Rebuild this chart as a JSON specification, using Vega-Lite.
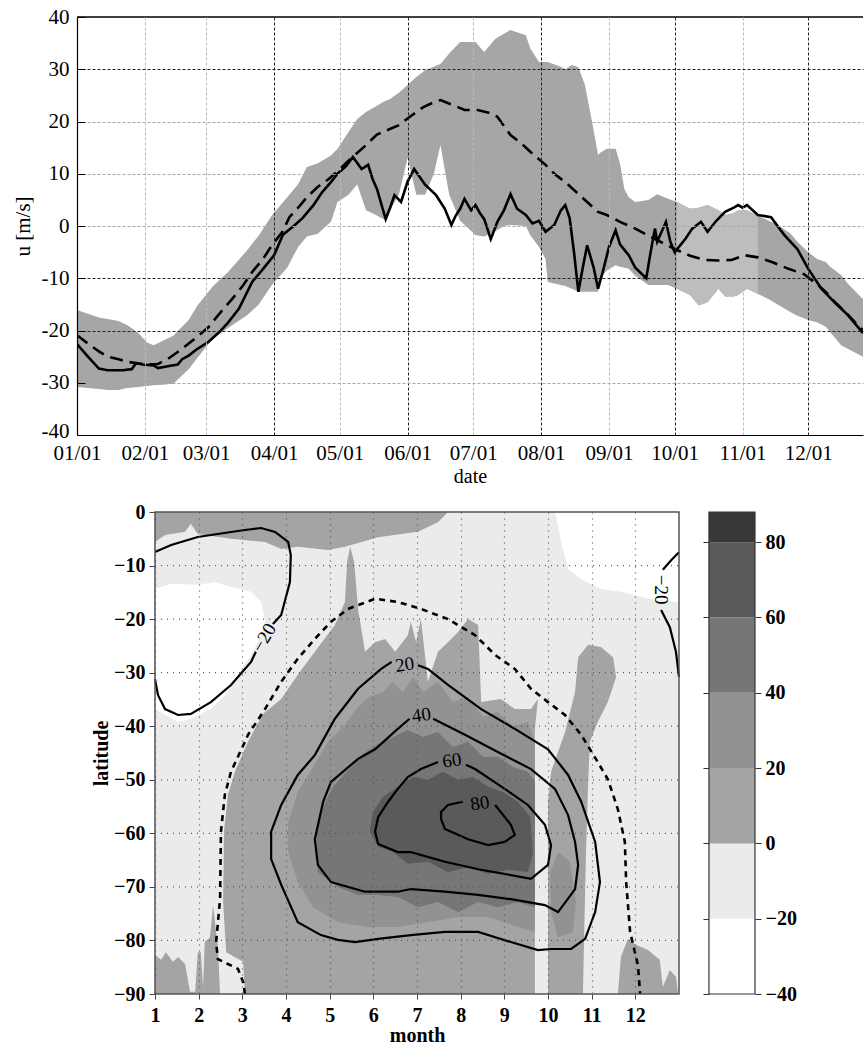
{
  "$schema": "https://vega.github.io/schema/vega-lite/v6.json",
  "background": "white",
  "padding": {"left": 12, "top": 6, "right": 0, "bottom": 0},
  "config": {
    "view": {"stroke": null},
    "font": "Liberation Serif",
    "axis": {"labelFont": "Liberation Serif", "titleFont": "Liberation Serif", "labelColor": "#000", "titleColor": "#000"}
  },
  "datasets": {
    "obs": [
      {"day":0,"u":-22.6},{"day":5,"u":-25},{"day":10,"u":-27.3},{"day":14,"u":-27.6},{"day":21,"u":-27.6},{"day":25,"u":-27.4},{"day":27,"u":-26.2},{"day":30,"u":-26.5},{"day":35,"u":-26.7},{"day":37,"u":-27.2},{"day":42,"u":-26.8},{"day":46,"u":-26.5},{"day":48,"u":-25.5},{"day":51,"u":-24.8},{"day":55,"u":-23.5},{"day":60,"u":-22.2},{"day":65,"u":-20.3},{"day":69,"u":-18.5},{"day":74,"u":-15.8},{"day":80,"u":-10.7},{"day":85,"u":-8.2},{"day":90,"u":-5.6},{"day":94,"u":-1.7},{"day":96,"u":-1},{"day":99,"u":0},{"day":103,"u":1.5},{"day":108,"u":4},{"day":112,"u":6.5},{"day":116,"u":8.4},{"day":119,"u":10},{"day":123,"u":11.5},{"day":126,"u":13.2},{"day":130,"u":10.9},{"day":133,"u":11.7},{"day":135,"u":9},{"day":137,"u":7.1},{"day":141,"u":1.3},{"day":143,"u":3.5},{"day":145,"u":5.9},{"day":148,"u":4.6},{"day":151,"u":8.5},{"day":154,"u":10.9},{"day":159,"u":7.9},{"day":164,"u":5.9},{"day":168,"u":3.3},{"day":171,"u":0.2},{"day":173,"u":2},{"day":175,"u":3.3},{"day":177,"u":5.2},{"day":180,"u":3},{"day":182,"u":4},{"day":184,"u":2.5},{"day":186,"u":1.3},{"day":189,"u":-2.5},{"day":192,"u":0.8},{"day":195,"u":3},{"day":198,"u":6.1},{"day":201,"u":3.3},{"day":205,"u":2.1},{"day":208,"u":0.5},{"day":211,"u":1},{"day":214,"u":-1.1},{"day":218,"u":0.2},{"day":221,"u":3},{"day":223,"u":4},{"day":225,"u":1.5},{"day":227,"u":-5},{"day":229,"u":-12.6},{"day":231,"u":-8},{"day":233,"u":-3.7},{"day":236,"u":-8},{"day":238,"u":-12},{"day":240,"u":-9},{"day":243,"u":-4},{"day":246,"u":-0.8},{"day":248,"u":-3.5},{"day":252,"u":-5.6},{"day":255,"u":-8},{"day":260,"u":-10},{"day":262,"u":-5},{"day":264,"u":-0.5},{"day":265,"u":-3},{"day":269,"u":0.8},{"day":271,"u":-3},{"day":273,"u":-5},{"day":278,"u":-2.4},{"day":281,"u":-0.5},{"day":285,"u":0.8},{"day":288,"u":-1.1},{"day":292,"u":1},{"day":296,"u":2.7},{"day":300,"u":3.5},{"day":302,"u":4},{"day":304,"u":3.5},{"day":306,"u":4},{"day":311,"u":2.1},{"day":317,"u":1.7},{"day":323,"u":-1.7},{"day":329,"u":-4.4},{"day":334,"u":-8.2},{"day":340,"u":-12},{"day":346,"u":-14.6},{"day":352,"u":-17},{"day":359,"u":-20.5}
    ],
    "clim": [
      {"day":0,"u":-20.9},{"day":5,"u":-22.5},{"day":10,"u":-24},{"day":14,"u":-25},{"day":19,"u":-25.5},{"day":23,"u":-26},{"day":28,"u":-26.3},{"day":32,"u":-26.5},{"day":37,"u":-26.4},{"day":42,"u":-25.3},{"day":48,"u":-23.5},{"day":54,"u":-21.5},{"day":60,"u":-19.4},{"day":65,"u":-16.8},{"day":71,"u":-13.9},{"day":76,"u":-11.3},{"day":80,"u":-8.8},{"day":85,"u":-6.3},{"day":89,"u":-3.7},{"day":94,"u":-1},{"day":97,"u":1.7},{"day":101,"u":3.5},{"day":105,"u":5.5},{"day":110,"u":7.5},{"day":115,"u":9},{"day":119,"u":10.5},{"day":124,"u":12.5},{"day":131,"u":15.1},{"day":137,"u":17.5},{"day":147,"u":19.3},{"day":153,"u":21.2},{"day":158,"u":22.7},{"day":163,"u":23.7},{"day":166,"u":24.1},{"day":172,"u":23.1},{"day":177,"u":22.2},{"day":183,"u":22.2},{"day":188,"u":21.7},{"day":192,"u":20.9},{"day":198,"u":17.4},{"day":203,"u":15.8},{"day":207,"u":14.2},{"day":214,"u":11.7},{"day":218,"u":10},{"day":223,"u":8.4},{"day":228,"u":6.5},{"day":233,"u":4.6},{"day":238,"u":2.7},{"day":242,"u":2.1},{"day":248,"u":0.8},{"day":255,"u":-0.5},{"day":264,"u":-2.5},{"day":273,"u":-4.4},{"day":280,"u":-5.7},{"day":287,"u":-6.5},{"day":293,"u":-6.6},{"day":299,"u":-6.5},{"day":305,"u":-5.6},{"day":311,"u":-6},{"day":318,"u":-7},{"day":325,"u":-8.2},{"day":332,"u":-9.2},{"day":337,"u":-10.8},{"day":342,"u":-12.6},{"day":346,"u":-14.5},{"day":351,"u":-16.5},{"day":359,"u":-20}
    ],
    "band": [
      {"day":0,"lo":-30.8,"hi":-16.1},{"day":5,"lo":-31,"hi":-16.8},{"day":10,"lo":-31.2,"hi":-17.5},{"day":14,"lo":-31.4,"hi":-17.8},{"day":19,"lo":-31.4,"hi":-18.2},{"day":23,"lo":-31,"hi":-19},{"day":28,"lo":-30.8,"hi":-20.5},{"day":32,"lo":-30.6,"hi":-22.3},{"day":35,"lo":-30.5,"hi":-22.8},{"day":39,"lo":-30.4,"hi":-22},{"day":44,"lo":-30.2,"hi":-21},{"day":51,"lo":-27.4,"hi":-18},{"day":55,"lo":-25.2,"hi":-15.2},{"day":62,"lo":-21.6,"hi":-11.6},{"day":69,"lo":-19.5,"hi":-8.8},{"day":78,"lo":-17,"hi":-4.5},{"day":83,"lo":-15,"hi":-1.8},{"day":89,"lo":-11.3,"hi":2},{"day":96,"lo":-8,"hi":5.5},{"day":101,"lo":-4,"hi":8},{"day":105,"lo":-2,"hi":11.3},{"day":110,"lo":-1.5,"hi":12},{"day":116,"lo":0.8,"hi":13.5},{"day":119,"lo":4.6,"hi":14.8},{"day":124,"lo":6,"hi":18},{"day":128,"lo":8,"hi":20.5},{"day":132,"lo":3,"hi":21.8},{"day":137,"lo":2,"hi":23},{"day":140,"lo":1.3,"hi":23.8},{"day":143,"lo":3,"hi":24.3},{"day":147,"lo":6,"hi":25.5},{"day":151,"lo":13,"hi":27},{"day":155,"lo":6,"hi":28.5},{"day":159,"lo":6,"hi":29.8},{"day":163,"lo":10,"hi":30.5},{"day":166,"lo":15.5,"hi":31},{"day":170,"lo":6,"hi":33},{"day":175,"lo":1,"hi":35.2},{"day":182,"lo":-1.7,"hi":35.2},{"day":186,"lo":-2,"hi":33.3},{"day":191,"lo":-1,"hi":35.8},{"day":195,"lo":0,"hi":36.8},{"day":198,"lo":0.2,"hi":37.5},{"day":205,"lo":0,"hi":36.5},{"day":207,"lo":-1.7,"hi":34},{"day":211,"lo":-4,"hi":31.4},{"day":214,"lo":-6.3,"hi":31.4},{"day":215,"lo":-10.7,"hi":31.4},{"day":221,"lo":-11.3,"hi":30.5},{"day":223,"lo":-11.5,"hi":30},{"day":226,"lo":-12,"hi":30.8},{"day":229,"lo":-12.6,"hi":30.4},{"day":232,"lo":-12.6,"hi":27},{"day":235,"lo":-12.6,"hi":20.5},{"day":238,"lo":-12.6,"hi":13.6},{"day":239,"lo":-10,"hi":14},{"day":242,"lo":-8.5,"hi":14.8},{"day":246,"lo":-7.5,"hi":14.8},{"day":248,"lo":-7.8,"hi":12},{"day":250,"lo":-8,"hi":7.1},{"day":252,"lo":-8.2,"hi":5.5},{"day":255,"lo":-9.5,"hi":4.6},{"day":261,"lo":-11.3,"hi":5},{"day":265,"lo":-11.3,"hi":6.1},{"day":270,"lo":-11.3,"hi":5.2},{"day":274,"lo":-12,"hi":4.6},{"day":280,"lo":-13.2,"hi":3.3},{"day":284,"lo":-15.2,"hi":3.5},{"day":288,"lo":-14.6,"hi":4},{"day":293,"lo":-12,"hi":3},{"day":296,"lo":-13.5,"hi":2.1},{"day":300,"lo":-13.5,"hi":2.5},{"day":302,"lo":-13.2,"hi":3},{"day":306,"lo":-12,"hi":3},{"day":311,"lo":-13,"hi":2},{"day":316,"lo":-14,"hi":1},{"day":320,"lo":-15,"hi":0.2},{"day":326,"lo":-16.5,"hi":-1.5},{"day":329,"lo":-17.2,"hi":-3},{"day":334,"lo":-18,"hi":-5},{"day":338,"lo":-18.4,"hi":-6.3},{"day":342,"lo":-19.3,"hi":-6.9},{"day":344,"lo":-20.3,"hi":-7.8},{"day":349,"lo":-22.8,"hi":-9.4},{"day":352,"lo":-23.5,"hi":-11},{"day":359,"lo":-25,"hi":-14}
    ],
    "fills": [
      {"id":"w1","lev":"w","i":0,"month":1,"lat":-14.4},{"id":"w1","lev":"w","i":1,"month":1.37,"lat":-13.4},{"id":"w1","lev":"w","i":2,"month":1.98,"lat":-13.6},{"id":"w1","lev":"w","i":3,"month":2.37,"lat":-13.1},{"id":"w1","lev":"w","i":4,"month":2.74,"lat":-14.0},{"id":"w1","lev":"w","i":5,"month":3.2,"lat":-14.9},{"id":"w1","lev":"w","i":6,"month":3.43,"lat":-16.8},{"id":"w1","lev":"w","i":7,"month":3.52,"lat":-20.5},{"id":"w1","lev":"w","i":8,"month":3.43,"lat":-23.0},{"id":"w1","lev":"w","i":9,"month":3.2,"lat":-26.7},{"id":"w1","lev":"w","i":10,"month":2.9,"lat":-30.4},{"id":"w1","lev":"w","i":11,"month":2.6,"lat":-34.2},{"id":"w1","lev":"w","i":12,"month":2.28,"lat":-36.8},{"id":"w1","lev":"w","i":13,"month":1.82,"lat":-38.6},{"id":"w1","lev":"w","i":14,"month":1.53,"lat":-39.2},{"id":"w1","lev":"w","i":15,"month":1.23,"lat":-37.9},{"id":"w1","lev":"w","i":16,"month":1,"lat":-36.8},
      {"id":"w2","lev":"w","i":0,"month":10.16,"lat":0},{"id":"w2","lev":"w","i":1,"month":10.30,"lat":-5.6},{"id":"w2","lev":"w","i":2,"month":10.46,"lat":-10.6},{"id":"w2","lev":"w","i":3,"month":10.76,"lat":-12.5},{"id":"w2","lev":"w","i":4,"month":11.21,"lat":-14.4},{"id":"w2","lev":"w","i":5,"month":11.67,"lat":-14.9},{"id":"w2","lev":"w","i":6,"month":12.29,"lat":-16.2},{"id":"w2","lev":"w","i":7,"month":13,"lat":-16.8},{"id":"w2","lev":"w","i":8,"month":13,"lat":0},
      {"id":"a1","lev":"g0","i":0,"month":1,"lat":0},{"id":"a1","lev":"g0","i":1,"month":1,"lat":-5.6},{"id":"a1","lev":"g0","i":2,"month":1.23,"lat":-4.3},{"id":"a1","lev":"g0","i":3,"month":1.69,"lat":-3.7},{"id":"a1","lev":"g0","i":4,"month":1.82,"lat":-2.2},{"id":"a1","lev":"g0","i":5,"month":1.98,"lat":-4.1},{"id":"a1","lev":"g0","i":6,"month":2.74,"lat":-5.0},{"id":"a1","lev":"g0","i":7,"month":3.52,"lat":-5.6},{"id":"a1","lev":"g0","i":8,"month":3.89,"lat":-6.9},{"id":"a1","lev":"g0","i":9,"month":4.27,"lat":-6.5},{"id":"a1","lev":"g0","i":10,"month":4.96,"lat":-7.1},{"id":"a1","lev":"g0","i":11,"month":5.35,"lat":-6.5},{"id":"a1","lev":"g0","i":12,"month":6.11,"lat":-4.7},{"id":"a1","lev":"g0","i":13,"month":7.02,"lat":-3.7},{"id":"a1","lev":"g0","i":14,"month":7.48,"lat":-1.9},{"id":"a1","lev":"g0","i":15,"month":7.71,"lat":0},
      {"id":"a2","lev":"g0","i":0,"month":3.06,"lat":-90},{"id":"a2","lev":"g0","i":1,"month":3.02,"lat":-84.0},{"id":"a2","lev":"g0","i":2,"month":2.63,"lat":-82.2},{"id":"a2","lev":"g0","i":3,"month":2.56,"lat":-72.8},{"id":"a2","lev":"g0","i":4,"month":2.58,"lat":-59.7},{"id":"a2","lev":"g0","i":5,"month":2.67,"lat":-52.8},{"id":"a2","lev":"g0","i":6,"month":2.83,"lat":-48.5},{"id":"a2","lev":"g0","i":7,"month":3.13,"lat":-42.9},{"id":"a2","lev":"g0","i":8,"month":3.47,"lat":-37.7},{"id":"a2","lev":"g0","i":9,"month":3.89,"lat":-34.9},{"id":"a2","lev":"g0","i":10,"month":4.27,"lat":-30.4},{"id":"a2","lev":"g0","i":11,"month":4.66,"lat":-26.1},{"id":"a2","lev":"g0","i":12,"month":5.12,"lat":-21.1},{"id":"a2","lev":"g0","i":13,"month":5.35,"lat":-16.8},{"id":"a2","lev":"g0","i":14,"month":5.40,"lat":-9.3},{"id":"a2","lev":"g0","i":15,"month":5.47,"lat":-6.5},{"id":"a2","lev":"g0","i":16,"month":5.56,"lat":-9.3},{"id":"a2","lev":"g0","i":17,"month":5.65,"lat":-18.1},{"id":"a2","lev":"g0","i":18,"month":5.81,"lat":-26.1},{"id":"a2","lev":"g0","i":19,"month":6.04,"lat":-24.3},{"id":"a2","lev":"g0","i":20,"month":6.27,"lat":-23.7},{"id":"a2","lev":"g0","i":21,"month":6.50,"lat":-26.1},{"id":"a2","lev":"g0","i":22,"month":6.79,"lat":-23.0},{"id":"a2","lev":"g0","i":23,"month":6.86,"lat":-20.5},{"id":"a2","lev":"g0","i":24,"month":6.98,"lat":-24.3},{"id":"a2","lev":"g0","i":25,"month":7.09,"lat":-20.0},{"id":"a2","lev":"g0","i":26,"month":7.25,"lat":-31.7},{"id":"a2","lev":"g0","i":27,"month":7.48,"lat":-26.1},{"id":"a2","lev":"g0","i":28,"month":7.71,"lat":-24.3},{"id":"a2","lev":"g0","i":29,"month":7.94,"lat":-22.4},{"id":"a2","lev":"g0","i":30,"month":8.17,"lat":-20.0},{"id":"a2","lev":"g0","i":31,"month":8.40,"lat":-21.1},{"id":"a2","lev":"g0","i":32,"month":8.47,"lat":-35.5},{"id":"a2","lev":"g0","i":33,"month":8.92,"lat":-34.9},{"id":"a2","lev":"g0","i":34,"month":9.24,"lat":-36.8},{"id":"a2","lev":"g0","i":35,"month":9.61,"lat":-36.8},{"id":"a2","lev":"g0","i":36,"month":9.77,"lat":-34.9},{"id":"a2","lev":"g0","i":37,"month":9.70,"lat":-40.5},{"id":"a2","lev":"g0","i":38,"month":9.70,"lat":-90},
      {"id":"a3","lev":"g0","i":0,"month":10.0,"lat":-90},{"id":"a3","lev":"g0","i":1,"month":10.0,"lat":-54.1},{"id":"a3","lev":"g0","i":2,"month":10.07,"lat":-48.5},{"id":"a3","lev":"g0","i":3,"month":10.23,"lat":-44.8},{"id":"a3","lev":"g0","i":4,"month":10.39,"lat":-41.1},{"id":"a3","lev":"g0","i":5,"month":10.62,"lat":-33.6},{"id":"a3","lev":"g0","i":6,"month":10.69,"lat":-27.1},{"id":"a3","lev":"g0","i":7,"month":10.92,"lat":-24.8},{"id":"a3","lev":"g0","i":8,"month":11.21,"lat":-25.2},{"id":"a3","lev":"g0","i":9,"month":11.49,"lat":-27.1},{"id":"a3","lev":"g0","i":10,"month":11.56,"lat":-30.8},{"id":"a3","lev":"g0","i":11,"month":11.37,"lat":-35.5},{"id":"a3","lev":"g0","i":12,"month":11.14,"lat":-39.2},{"id":"a3","lev":"g0","i":13,"month":10.96,"lat":-42.9},{"id":"a3","lev":"g0","i":14,"month":10.92,"lat":-50.4},{"id":"a3","lev":"g0","i":15,"month":10.87,"lat":-63.5},{"id":"a3","lev":"g0","i":16,"month":10.82,"lat":-82.2},{"id":"a3","lev":"g0","i":17,"month":10.80,"lat":-90},
      {"id":"a4","lev":"g0","i":0,"month":11.60,"lat":-90},{"id":"a4","lev":"g0","i":1,"month":11.67,"lat":-83.1},{"id":"a4","lev":"g0","i":2,"month":11.83,"lat":-79.7},{"id":"a4","lev":"g0","i":3,"month":12.01,"lat":-80.8},{"id":"a4","lev":"g0","i":4,"month":12.29,"lat":-81.8},{"id":"a4","lev":"g0","i":5,"month":12.56,"lat":-83.6},{"id":"a4","lev":"g0","i":6,"month":12.63,"lat":-88.7},{"id":"a4","lev":"g0","i":7,"month":12.79,"lat":-85.5},{"id":"a4","lev":"g0","i":8,"month":12.93,"lat":-86.8},{"id":"a4","lev":"g0","i":9,"month":12.98,"lat":-90},
      {"id":"a5","lev":"g0","i":0,"month":1.0,"lat":-90},{"id":"a5","lev":"g0","i":1,"month":1.0,"lat":-82.7},{"id":"a5","lev":"g0","i":2,"month":1.14,"lat":-83.6},{"id":"a5","lev":"g0","i":3,"month":1.25,"lat":-82.2},{"id":"a5","lev":"g0","i":4,"month":1.41,"lat":-84.0},{"id":"a5","lev":"g0","i":5,"month":1.53,"lat":-83.1},{"id":"a5","lev":"g0","i":6,"month":1.69,"lat":-84.4},{"id":"a5","lev":"g0","i":7,"month":1.80,"lat":-89.6},{"id":"a5","lev":"g0","i":8,"month":1.92,"lat":-89.6},{"id":"a5","lev":"g0","i":9,"month":1.98,"lat":-82.2},{"id":"a5","lev":"g0","i":10,"month":2.05,"lat":-82.2},{"id":"a5","lev":"g0","i":11,"month":2.10,"lat":-88.7},{"id":"a5","lev":"g0","i":12,"month":2.14,"lat":-80.3},{"id":"a5","lev":"g0","i":13,"month":2.26,"lat":-79.4},{"id":"a5","lev":"g0","i":14,"month":2.33,"lat":-73.4},{"id":"a5","lev":"g0","i":15,"month":2.40,"lat":-78.4},{"id":"a5","lev":"g0","i":16,"month":2.44,"lat":-81.2},{"id":"a5","lev":"g0","i":17,"month":2.49,"lat":-90},
      {"id":"b1","lev":"g20","i":0,"month":4.27,"lat":-69.1},{"id":"b1","lev":"g20","i":1,"month":4.05,"lat":-63.5},{"id":"b1","lev":"g20","i":2,"month":4.05,"lat":-57.9},{"id":"b1","lev":"g20","i":3,"month":4.27,"lat":-52.3},{"id":"b1","lev":"g20","i":4,"month":4.62,"lat":-47.6},{"id":"b1","lev":"g20","i":5,"month":4.96,"lat":-42.9},{"id":"b1","lev":"g20","i":6,"month":5.31,"lat":-40.1},{"id":"b1","lev":"g20","i":7,"month":5.65,"lat":-36.4},{"id":"b1","lev":"g20","i":8,"month":5.92,"lat":-34.5},{"id":"b1","lev":"g20","i":9,"month":6.22,"lat":-33.6},{"id":"b1","lev":"g20","i":10,"month":6.45,"lat":-31.7},{"id":"b1","lev":"g20","i":11,"month":6.68,"lat":-33.6},{"id":"b1","lev":"g20","i":12,"month":6.91,"lat":-30.8},{"id":"b1","lev":"g20","i":13,"month":7.14,"lat":-33.6},{"id":"b1","lev":"g20","i":14,"month":7.48,"lat":-31.7},{"id":"b1","lev":"g20","i":15,"month":7.82,"lat":-35.5},{"id":"b1","lev":"g20","i":16,"month":8.17,"lat":-34.5},{"id":"b1","lev":"g20","i":17,"month":8.51,"lat":-38.3},{"id":"b1","lev":"g20","i":18,"month":8.85,"lat":-37.3},{"id":"b1","lev":"g20","i":19,"month":9.20,"lat":-40.1},{"id":"b1","lev":"g20","i":20,"month":9.54,"lat":-39.2},{"id":"b1","lev":"g20","i":21,"month":9.70,"lat":-42.9},{"id":"b1","lev":"g20","i":22,"month":9.70,"lat":-78.4},{"id":"b1","lev":"g20","i":23,"month":9.31,"lat":-77.5},{"id":"b1","lev":"g20","i":24,"month":8.63,"lat":-75.6},{"id":"b1","lev":"g20","i":25,"month":7.94,"lat":-75.6},{"id":"b1","lev":"g20","i":26,"month":7.25,"lat":-76.6},{"id":"b1","lev":"g20","i":27,"month":6.56,"lat":-77.5},{"id":"b1","lev":"g20","i":28,"month":5.88,"lat":-77.5},{"id":"b1","lev":"g20","i":29,"month":5.19,"lat":-76.6},{"id":"b1","lev":"g20","i":30,"month":4.62,"lat":-73.8},
      {"id":"b2","lev":"g20","i":0,"month":10.05,"lat":-67.2},{"id":"b2","lev":"g20","i":1,"month":10.23,"lat":-63.5},{"id":"b2","lev":"g20","i":2,"month":10.50,"lat":-65.3},{"id":"b2","lev":"g20","i":3,"month":10.64,"lat":-72.8},{"id":"b2","lev":"g20","i":4,"month":10.57,"lat":-78.4},{"id":"b2","lev":"g20","i":5,"month":10.23,"lat":-79.4},{"id":"b2","lev":"g20","i":6,"month":10.07,"lat":-74.7},
      {"id":"c1","lev":"g40","i":0,"month":4.73,"lat":-67.2},{"id":"c1","lev":"g40","i":1,"month":4.69,"lat":-61.6},{"id":"c1","lev":"g40","i":2,"month":4.78,"lat":-56.0},{"id":"c1","lev":"g40","i":3,"month":5.08,"lat":-51.3},{"id":"c1","lev":"g40","i":4,"month":5.42,"lat":-48.2},{"id":"c1","lev":"g40","i":5,"month":5.76,"lat":-45.2},{"id":"c1","lev":"g40","i":6,"month":6.11,"lat":-43.3},{"id":"c1","lev":"g40","i":7,"month":6.45,"lat":-42.0},{"id":"c1","lev":"g40","i":8,"month":6.79,"lat":-40.7},{"id":"c1","lev":"g40","i":9,"month":7.14,"lat":-42.0},{"id":"c1","lev":"g40","i":10,"month":7.48,"lat":-41.1},{"id":"c1","lev":"g40","i":11,"month":7.82,"lat":-43.9},{"id":"c1","lev":"g40","i":12,"month":8.17,"lat":-42.9},{"id":"c1","lev":"g40","i":13,"month":8.51,"lat":-45.7},{"id":"c1","lev":"g40","i":14,"month":8.85,"lat":-45.7},{"id":"c1","lev":"g40","i":15,"month":9.20,"lat":-47.6},{"id":"c1","lev":"g40","i":16,"month":9.54,"lat":-48.5},{"id":"c1","lev":"g40","i":17,"month":9.70,"lat":-50.4},{"id":"c1","lev":"g40","i":18,"month":9.70,"lat":-73.8},{"id":"c1","lev":"g40","i":19,"month":9.31,"lat":-72.8},{"id":"c1","lev":"g40","i":20,"month":8.85,"lat":-73.8},{"id":"c1","lev":"g40","i":21,"month":8.40,"lat":-72.8},{"id":"c1","lev":"g40","i":22,"month":7.94,"lat":-74.7},{"id":"c1","lev":"g40","i":23,"month":7.48,"lat":-72.8},{"id":"c1","lev":"g40","i":24,"month":7.02,"lat":-73.8},{"id":"c1","lev":"g40","i":25,"month":6.56,"lat":-71.9},{"id":"c1","lev":"g40","i":26,"month":6.11,"lat":-71.5},{"id":"c1","lev":"g40","i":27,"month":5.65,"lat":-71.5},{"id":"c1","lev":"g40","i":28,"month":5.19,"lat":-70.0},
      {"id":"d1","lev":"g60","i":0,"month":5.92,"lat":-59.7},{"id":"d1","lev":"g60","i":1,"month":5.99,"lat":-56.0},{"id":"d1","lev":"g60","i":2,"month":6.22,"lat":-53.2},{"id":"d1","lev":"g60","i":3,"month":6.56,"lat":-51.3},{"id":"d1","lev":"g60","i":4,"month":6.91,"lat":-49.5},{"id":"d1","lev":"g60","i":5,"month":7.25,"lat":-50.0},{"id":"d1","lev":"g60","i":6,"month":7.59,"lat":-48.5},{"id":"d1","lev":"g60","i":7,"month":7.94,"lat":-50.0},{"id":"d1","lev":"g60","i":8,"month":8.28,"lat":-49.5},{"id":"d1","lev":"g60","i":9,"month":8.63,"lat":-51.3},{"id":"d1","lev":"g60","i":10,"month":8.97,"lat":-52.3},{"id":"d1","lev":"g60","i":11,"month":9.31,"lat":-54.1},{"id":"d1","lev":"g60","i":12,"month":9.59,"lat":-56.9},{"id":"d1","lev":"g60","i":13,"month":9.66,"lat":-63.5},{"id":"d1","lev":"g60","i":14,"month":9.54,"lat":-67.2},{"id":"d1","lev":"g60","i":15,"month":9.08,"lat":-66.8},{"id":"d1","lev":"g60","i":16,"month":8.63,"lat":-67.6},{"id":"d1","lev":"g60","i":17,"month":8.17,"lat":-66.3},{"id":"d1","lev":"g60","i":18,"month":7.71,"lat":-67.2},{"id":"d1","lev":"g60","i":19,"month":7.25,"lat":-65.3},{"id":"d1","lev":"g60","i":20,"month":6.79,"lat":-65.7},{"id":"d1","lev":"g60","i":21,"month":6.45,"lat":-63.5},{"id":"d1","lev":"g60","i":22,"month":6.11,"lat":-62.5}
    ],
    "contours": [
      {"id":"a","sty":"s","i":0,"month":1.00,"lat":-7.47},{"id":"a","sty":"s","i":1,"month":1.37,"lat":-6.16},{"id":"a","sty":"s","i":2,"month":1.98,"lat":-4.67},{"id":"a","sty":"s","i":3,"month":2.74,"lat":-3.73},{"id":"a","sty":"s","i":4,"month":3.06,"lat":-3.36},{"id":"a","sty":"s","i":5,"month":3.43,"lat":-2.99},{"id":"a","sty":"s","i":6,"month":3.75,"lat":-3.73},{"id":"a","sty":"s","i":7,"month":4.05,"lat":-5.60},{"id":"a","sty":"s","i":8,"month":4.11,"lat":-8.03},{"id":"a","sty":"s","i":9,"month":4.09,"lat":-13.07},{"id":"a","sty":"s","i":10,"month":3.89,"lat":-19.23},{"id":"a","sty":"s","i":11,"month":3.70,"lat":-20.9},
      {"id":"b","sty":"s","i":0,"month":3.31,"lat":-26.1},{"id":"b","sty":"s","i":1,"month":3.20,"lat":-28.0},{"id":"b","sty":"s","i":2,"month":2.74,"lat":-32.3},{"id":"b","sty":"s","i":3,"month":2.28,"lat":-35.5},{"id":"b","sty":"s","i":4,"month":1.82,"lat":-37.7},{"id":"b","sty":"s","i":5,"month":1.53,"lat":-37.9},{"id":"b","sty":"s","i":6,"month":1.23,"lat":-36.8},{"id":"b","sty":"s","i":7,"month":1.07,"lat":-34.2},{"id":"b","sty":"s","i":8,"month":1.00,"lat":-31.2},
      {"id":"c","sty":"s","i":0,"month":13.0,"lat":-7.5},{"id":"c","sty":"s","i":1,"month":12.82,"lat":-9.0},{"id":"c","sty":"s","i":2,"month":12.63,"lat":-10.8},
      {"id":"d","sty":"s","i":0,"month":12.59,"lat":-18.3},{"id":"d","sty":"s","i":1,"month":12.79,"lat":-21.5},{"id":"d","sty":"s","i":2,"month":12.93,"lat":-26.1},{"id":"d","sty":"s","i":3,"month":13.0,"lat":-30.8},
      {"id":"e","sty":"s","i":0,"month":7.02,"lat":-28.6},{"id":"e","sty":"s","i":1,"month":7.25,"lat":-29.3},{"id":"e","sty":"s","i":2,"month":7.71,"lat":-32.3},{"id":"e","sty":"s","i":3,"month":8.47,"lat":-36.8},{"id":"e","sty":"s","i":4,"month":9.24,"lat":-40.5},{"id":"e","sty":"s","i":5,"month":10.00,"lat":-44.3},{"id":"e","sty":"s","i":6,"month":10.46,"lat":-49.1},{"id":"e","sty":"s","i":7,"month":10.76,"lat":-54.1},{"id":"e","sty":"s","i":8,"month":11.08,"lat":-61.6},{"id":"e","sty":"s","i":9,"month":11.19,"lat":-69.1},{"id":"e","sty":"s","i":10,"month":11.08,"lat":-74.7},{"id":"e","sty":"s","i":11,"month":10.85,"lat":-79.7},{"id":"e","sty":"s","i":12,"month":10.53,"lat":-81.6},{"id":"e","sty":"s","i":13,"month":10.07,"lat":-81.6},{"id":"e","sty":"s","i":14,"month":9.77,"lat":-81.8},{"id":"e","sty":"s","i":15,"month":9.15,"lat":-80.3},{"id":"e","sty":"s","i":16,"month":8.40,"lat":-78.4},{"id":"e","sty":"s","i":17,"month":7.64,"lat":-78.4},{"id":"e","sty":"s","i":18,"month":6.86,"lat":-79.0},{"id":"e","sty":"s","i":19,"month":6.11,"lat":-79.7},{"id":"e","sty":"s","i":20,"month":5.58,"lat":-80.3},{"id":"e","sty":"s","i":21,"month":5.19,"lat":-79.9},{"id":"e","sty":"s","i":22,"month":4.80,"lat":-79.0},{"id":"e","sty":"s","i":23,"month":4.27,"lat":-76.6},{"id":"e","sty":"s","i":24,"month":3.89,"lat":-69.6},{"id":"e","sty":"s","i":25,"month":3.66,"lat":-64.8},{"id":"e","sty":"s","i":26,"month":3.66,"lat":-59.7},{"id":"e","sty":"s","i":27,"month":3.89,"lat":-54.7},{"id":"e","sty":"s","i":28,"month":4.27,"lat":-49.1},{"id":"e","sty":"s","i":29,"month":4.66,"lat":-45.4},{"id":"e","sty":"s","i":30,"month":5.12,"lat":-38.6},{"id":"e","sty":"s","i":31,"month":5.65,"lat":-33.0},{"id":"e","sty":"s","i":32,"month":6.18,"lat":-29.3},{"id":"e","sty":"s","i":33,"month":6.42,"lat":-28.0},
      {"id":"f","sty":"s","i":0,"month":7.37,"lat":-38.6},{"id":"f","sty":"s","i":1,"month":8.10,"lat":-41.6},{"id":"f","sty":"s","i":2,"month":8.85,"lat":-44.8},{"id":"f","sty":"s","i":3,"month":9.61,"lat":-48.0},{"id":"f","sty":"s","i":4,"month":10.16,"lat":-51.7},{"id":"f","sty":"s","i":5,"month":10.46,"lat":-56.6},{"id":"f","sty":"s","i":6,"month":10.62,"lat":-61.6},{"id":"f","sty":"s","i":7,"month":10.69,"lat":-65.9},{"id":"f","sty":"s","i":8,"month":10.62,"lat":-70.4},{"id":"f","sty":"s","i":9,"month":10.23,"lat":-74.7},{"id":"f","sty":"s","i":10,"month":9.93,"lat":-73.4},{"id":"f","sty":"s","i":11,"month":9.15,"lat":-72.3},{"id":"f","sty":"s","i":12,"month":8.40,"lat":-71.5},{"id":"f","sty":"s","i":13,"month":7.64,"lat":-70.9},{"id":"f","sty":"s","i":14,"month":6.86,"lat":-70.4},{"id":"f","sty":"s","i":15,"month":6.56,"lat":-70.9},{"id":"f","sty":"s","i":16,"month":5.81,"lat":-70.9},{"id":"f","sty":"s","i":17,"month":5.03,"lat":-69.1},{"id":"f","sty":"s","i":18,"month":4.73,"lat":-65.9},{"id":"f","sty":"s","i":19,"month":4.66,"lat":-61.1},{"id":"f","sty":"s","i":20,"month":4.85,"lat":-54.1},{"id":"f","sty":"s","i":21,"month":5.03,"lat":-50.4},{"id":"f","sty":"s","i":22,"month":5.65,"lat":-46.1},{"id":"f","sty":"s","i":23,"month":6.04,"lat":-44.3},{"id":"f","sty":"s","i":24,"month":6.56,"lat":-40.5},{"id":"f","sty":"s","i":25,"month":6.83,"lat":-38.6},
      {"id":"g","sty":"s","i":0,"month":8.12,"lat":-47.2},{"id":"g","sty":"s","i":1,"month":8.33,"lat":-48.0},{"id":"g","sty":"s","i":2,"month":9.01,"lat":-51.7},{"id":"g","sty":"s","i":3,"month":9.54,"lat":-54.7},{"id":"g","sty":"s","i":4,"month":9.93,"lat":-58.4},{"id":"g","sty":"s","i":5,"month":10.07,"lat":-62.2},{"id":"g","sty":"s","i":6,"month":10.00,"lat":-65.9},{"id":"g","sty":"s","i":7,"month":9.61,"lat":-68.5},{"id":"g","sty":"s","i":8,"month":9.15,"lat":-67.8},{"id":"g","sty":"s","i":9,"month":8.40,"lat":-66.7},{"id":"g","sty":"s","i":10,"month":7.64,"lat":-65.3},{"id":"g","sty":"s","i":11,"month":6.86,"lat":-63.5},{"id":"g","sty":"s","i":12,"month":6.56,"lat":-63.5},{"id":"g","sty":"s","i":13,"month":6.11,"lat":-62.0},{"id":"g","sty":"s","i":14,"month":6.04,"lat":-59.7},{"id":"g","sty":"s","i":15,"month":6.11,"lat":-57.0},{"id":"g","sty":"s","i":16,"month":6.34,"lat":-54.1},{"id":"g","sty":"s","i":17,"month":6.56,"lat":-51.7},{"id":"g","sty":"s","i":18,"month":6.79,"lat":-49.5},{"id":"g","sty":"s","i":19,"month":7.09,"lat":-48.0},{"id":"g","sty":"s","i":20,"month":7.48,"lat":-46.7},
      {"id":"h","sty":"s","i":0,"month":8.79,"lat":-54.7},{"id":"h","sty":"s","i":1,"month":9.15,"lat":-58.4},{"id":"h","sty":"s","i":2,"month":9.24,"lat":-60.3},{"id":"h","sty":"s","i":3,"month":9.01,"lat":-61.6},{"id":"h","sty":"s","i":4,"month":8.63,"lat":-62.2},{"id":"h","sty":"s","i":5,"month":8.17,"lat":-61.1},{"id":"h","sty":"s","i":6,"month":7.64,"lat":-59.2},{"id":"h","sty":"s","i":7,"month":7.55,"lat":-57.3},{"id":"h","sty":"s","i":8,"month":7.55,"lat":-56.0},{"id":"h","sty":"s","i":9,"month":7.71,"lat":-54.7},{"id":"h","sty":"s","i":10,"month":8.05,"lat":-54.1},
      {"id":"z","sty":"d","i":0,"month":3.06,"lat":-90},{"id":"z","sty":"d","i":1,"month":3.02,"lat":-87.8},{"id":"z","sty":"d","i":2,"month":2.90,"lat":-85.3},{"id":"z","sty":"d","i":3,"month":2.67,"lat":-84.4},{"id":"z","sty":"d","i":4,"month":2.44,"lat":-83.5},{"id":"z","sty":"d","i":5,"month":2.40,"lat":-80.3},{"id":"z","sty":"d","i":6,"month":2.49,"lat":-72.3},{"id":"z","sty":"d","i":7,"month":2.51,"lat":-59.7},{"id":"z","sty":"d","i":8,"month":2.60,"lat":-52.8},{"id":"z","sty":"d","i":9,"month":2.74,"lat":-48.5},{"id":"z","sty":"d","i":10,"month":3.06,"lat":-42.9},{"id":"z","sty":"d","i":11,"month":3.13,"lat":-41.6},{"id":"z","sty":"d","i":12,"month":3.52,"lat":-36.8},{"id":"z","sty":"d","i":13,"month":3.89,"lat":-31.7},{"id":"z","sty":"d","i":14,"month":4.27,"lat":-27.4},{"id":"z","sty":"d","i":15,"month":4.66,"lat":-23.7},{"id":"z","sty":"d","i":16,"month":5.03,"lat":-20.5},{"id":"z","sty":"d","i":17,"month":5.42,"lat":-18.1},{"id":"z","sty":"d","i":18,"month":6.04,"lat":-16.2},{"id":"z","sty":"d","i":19,"month":6.56,"lat":-16.8},{"id":"z","sty":"d","i":20,"month":7.09,"lat":-18.1},{"id":"z","sty":"d","i":21,"month":7.71,"lat":-20.0},{"id":"z","sty":"d","i":22,"month":8.33,"lat":-23.0},{"id":"z","sty":"d","i":23,"month":8.79,"lat":-26.7},{"id":"z","sty":"d","i":24,"month":9.24,"lat":-29.3},{"id":"z","sty":"d","i":25,"month":9.61,"lat":-33.0},{"id":"z","sty":"d","i":26,"month":10.00,"lat":-35.5},{"id":"z","sty":"d","i":27,"month":10.39,"lat":-37.9},{"id":"z","sty":"d","i":28,"month":10.76,"lat":-41.6},{"id":"z","sty":"d","i":29,"month":11.14,"lat":-46.7},{"id":"z","sty":"d","i":30,"month":11.37,"lat":-49.9},{"id":"z","sty":"d","i":31,"month":11.60,"lat":-55.5},{"id":"z","sty":"d","i":32,"month":11.76,"lat":-61.6},{"id":"z","sty":"d","i":33,"month":11.79,"lat":-69.1},{"id":"z","sty":"d","i":34,"month":11.88,"lat":-78.4},{"id":"z","sty":"d","i":35,"month":12.06,"lat":-84.6},{"id":"z","sty":"d","i":36,"month":12.11,"lat":-90}
    ],
    "clabels": [
      {"k":"h","t":"20","month":6.72,"lat":-28.5},
      {"k":"h","t":"40","month":7.10,"lat":-37.9},
      {"k":"h","t":"60","month":7.80,"lat":-46.4},
      {"k":"h","t":"80","month":8.44,"lat":-54.4},
      {"k":"l","t":"−20","month":3.50,"lat":-23.5},
      {"k":"r","t":"−20","month":12.58,"lat":-14.5}
    ],
    "latgrid": [{"lat":-10},{"lat":-20},{"lat":-30},{"lat":-40},{"lat":-50},{"lat":-60},{"lat":-70},{"lat":-80}],
    "cbar": [
      {"lo":-40,"hi":-20},{"lo":-20,"hi":0},{"lo":0,"hi":20},{"lo":20,"hi":40},{"lo":40,"hi":60},{"lo":60,"hi":80},{"lo":80,"hi":88}
    ]
  },
  "vconcat": [
    {
      "width": 786,
      "height": 418,
      "layer": [
        {
          "data": {"name": "band"},
          "mark": {"type": "area", "color": "#a6a6a6", "clip": true},
          "encoding": {
            "x": {
              "field": "day", "type": "quantitative",
              "scale": {"domain": [0, 359], "nice": false, "zero": false},
              "axis": {
                "values": [0,31,59,90,120,151,181,212,243,273,304,334],
                "labelExpr": "['01/01','02/01','03/01','04/01','05/01','06/01','07/01','08/01','09/01','10/01','11/01','12/01'][indexof([0,31,59,90,120,151,181,212,243,273,304,334], datum.value)]",
                "labelFontSize": 21, "labelPadding": 7, "labelOverlap": false, "labelFlush": false,
                "ticks": false, "domainColor": "#000", "domainWidth": 1.2,
                "title": "date", "titleFontSize": 20, "titleFontWeight": "normal", "titlePadding": 3,
                "grid": true, "gridDash": [3, 2], "gridWidth": 1,
                "gridColor": {"condition": {"test": "indexof([90,151,212,273,334], datum.value) >= 0", "value": "#222222"}, "value": "#bbbbbb"},
                "zindex": 1
              }
            },
            "y": {
              "field": "hi", "type": "quantitative",
              "scale": {"domain": [-40, 40], "nice": false, "zero": false},
              "axis": {
                "values": [-40,-35,-30,-25,-20,-15,-10,-5,0,5,10,15,20,25,30,35,40],
                "labelExpr": "datum.value % 10 == 0 ? (datum.value < 0 ? '-' + abs(datum.value) : '' + datum.value) : ''",
                "labelFontSize": 21, "labelPadding": 16, "labelFlush": false, "labelOverlap": false,
                "labelOffset": {"condition": {"test": "datum.value == -40", "value": -4}, "value": 0},
                "tickSize": -8, "tickColor": "#000",
                "domainColor": "#000", "domainWidth": 1.2,
                "title": "u [m/s]", "titleFontSize": 21, "titleFontWeight": "normal", "titlePadding": 8,
                "grid": true, "gridDash": [3, 2], "gridWidth": 1,
                "gridOpacity": {"condition": {"test": "datum.value % 10 != 0 || abs(datum.value) == 40", "value": 0}, "value": 1},
                "gridColor": {"condition": {"test": "indexof([30,-10,-20], datum.value) >= 0", "value": "#222222"}, "value": "#a8a8a8"},
                "zindex": 1
              }
            },
            "y2": {"field": "lo"}
          }
        },
        {
          "data": {"name": "band"},
          "transform": [{"filter": "datum.day >= 273 && datum.day <= 311"}],
          "mark": {"type": "area", "color": "#bdbdbd", "clip": true},
          "encoding": {
            "x": {"field": "day", "type": "quantitative"},
            "y": {"field": "hi", "type": "quantitative"},
            "y2": {"field": "lo"}
          }
        },
        {
          "data": {"name": "clim"},
          "mark": {"type": "line", "color": "#000", "strokeWidth": 2.6, "strokeDash": [13, 7], "clip": true},
          "encoding": {
            "x": {"field": "day", "type": "quantitative"},
            "y": {"field": "u", "type": "quantitative"}
          }
        },
        {
          "data": {"name": "obs"},
          "mark": {"type": "line", "color": "#000", "strokeWidth": 2.6, "clip": true},
          "encoding": {
            "x": {"field": "day", "type": "quantitative"},
            "y": {"field": "u", "type": "quantitative"}
          }
        },
        {
          "data": {"values": [{}]},
          "mark": {"type": "rule", "color": "#000", "strokeWidth": 1.5},
          "encoding": {
            "x": {"datum": 0},
            "x2": {"datum": 359},
            "y": {"datum": 40}
          }
        }
      ]
    },
    {
      "width": 602,
      "height": 482,
      "layer": [
        {
          "layer": [
            {
              "data": {"values": [{}]},
              "mark": {"type": "rect", "fill": "#ebebeb"},
              "encoding": {
                "x": {"datum": 1},
                "x2": {"datum": 13},
                "y": {"datum": 0},
                "y2": {"datum": -90}
              }
            },
            {
              "data": {"name": "fills"},
              "transform": [{"filter": {"field": "lev", "equal": "w"}}],
              "mark": {"type": "line", "filled": true, "fill": "#ffffff", "strokeWidth": 0},
              "encoding": {
                "x": {
                  "field": "month", "type": "quantitative",
                  "scale": {"domain": [-0.786, 13], "nice": false, "zero": false},
                  "axis": {
                    "values": [1,2,3,4,5,6,7,8,9,10,11,12], "format": "d",
                    "labelFontSize": 20, "labelFontWeight": "bold", "labelPadding": 6, "labelFlush": false,
                    "tickSize": 5, "tickColor": "#444", "domain": false,
                    "title": "month", "titleFontSize": 20, "titleFontWeight": "bold", "titlePadding": 0, "titleX": 340,
                    "grid": true, "gridColor": "#555555", "gridDash": [1, 5], "gridWidth": 1.2, "zindex": 1
                  }
                },
                "y": {
                  "field": "lat", "type": "quantitative",
                  "scale": {"domain": [-90, 0], "nice": false, "zero": false},
                  "axis": {
                    "orient": "left", "offset": -78,
                    "values": [-90,-80,-70,-60,-50,-40,-30,-20,-10,0],
                    "labelExpr": "datum.value < 0 ? '−' + abs(datum.value) : '0'",
                    "labelFontSize": 20, "labelFontWeight": "bold", "labelPadding": 4, "labelFlush": false,
                    "tickSize": 6, "tickColor": "#444", "domain": false,
                    "title": "latitude", "titleFontSize": 20, "titleFontWeight": "bold", "titlePadding": 2,
                    "grid": false
                  }
                },
                "detail": {"field": "id", "type": "nominal"},
                "order": {"field": "i", "type": "quantitative"}
              }
            },
            {
              "data": {"name": "fills"},
              "transform": [{"filter": {"field": "lev", "equal": "g0"}}],
              "mark": {"type": "line", "filled": true, "fill": "#a4a4a4", "strokeWidth": 0},
              "encoding": {
                "x": {"field": "month", "type": "quantitative"},
                "y": {"field": "lat", "type": "quantitative"},
                "detail": {"field": "id", "type": "nominal"},
                "order": {"field": "i", "type": "quantitative"}
              }
            },
            {
              "data": {"name": "fills"},
              "transform": [{"filter": {"field": "lev", "equal": "g20"}}],
              "mark": {"type": "line", "filled": true, "fill": "#929292", "strokeWidth": 0},
              "encoding": {
                "x": {"field": "month", "type": "quantitative"},
                "y": {"field": "lat", "type": "quantitative"},
                "detail": {"field": "id", "type": "nominal"},
                "order": {"field": "i", "type": "quantitative"}
              }
            },
            {
              "data": {"name": "fills"},
              "transform": [{"filter": {"field": "lev", "equal": "g40"}}],
              "mark": {"type": "line", "filled": true, "fill": "#767676", "strokeWidth": 0},
              "encoding": {
                "x": {"field": "month", "type": "quantitative"},
                "y": {"field": "lat", "type": "quantitative"},
                "detail": {"field": "id", "type": "nominal"},
                "order": {"field": "i", "type": "quantitative"}
              }
            },
            {
              "data": {"name": "fills"},
              "transform": [{"filter": {"field": "lev", "equal": "g60"}}],
              "mark": {"type": "line", "filled": true, "fill": "#5a5a5a", "strokeWidth": 0},
              "encoding": {
                "x": {"field": "month", "type": "quantitative"},
                "y": {"field": "lat", "type": "quantitative"},
                "detail": {"field": "id", "type": "nominal"},
                "order": {"field": "i", "type": "quantitative"}
              }
            },
            {
              "data": {"name": "latgrid"},
              "mark": {"type": "rule", "color": "#555555", "strokeDash": [1, 5], "strokeWidth": 1.2},
              "encoding": {
                "x": {"datum": 1},
                "x2": {"datum": 13},
                "y": {"field": "lat", "type": "quantitative"}
              }
            },
            {
              "data": {"name": "contours"},
              "transform": [{"filter": {"field": "sty", "equal": "s"}}],
              "mark": {"type": "line", "color": "#000", "strokeWidth": 2.2},
              "encoding": {
                "x": {"field": "month", "type": "quantitative"},
                "y": {"field": "lat", "type": "quantitative"},
                "detail": {"field": "id", "type": "nominal"},
                "order": {"field": "i", "type": "quantitative"}
              }
            },
            {
              "data": {"name": "contours"},
              "transform": [{"filter": {"field": "sty", "equal": "d"}}],
              "mark": {"type": "line", "color": "#000", "strokeWidth": 2.6, "strokeDash": [6, 5]},
              "encoding": {
                "x": {"field": "month", "type": "quantitative"},
                "y": {"field": "lat", "type": "quantitative"},
                "detail": {"field": "id", "type": "nominal"},
                "order": {"field": "i", "type": "quantitative"}
              }
            },
            {
              "data": {"name": "clabels"},
              "transform": [{"filter": {"field": "k", "equal": "h"}}],
              "mark": {"type": "text", "font": "Liberation Serif", "fontSize": 19, "color": "#000", "angle": 352},
              "encoding": {
                "x": {"field": "month", "type": "quantitative"},
                "y": {"field": "lat", "type": "quantitative"},
                "text": {"field": "t"}
              }
            },
            {
              "data": {"name": "clabels"},
              "transform": [{"filter": {"field": "k", "equal": "l"}}],
              "mark": {"type": "text", "font": "Liberation Serif", "fontSize": 19, "color": "#000", "angle": 300},
              "encoding": {
                "x": {"field": "month", "type": "quantitative"},
                "y": {"field": "lat", "type": "quantitative"},
                "text": {"field": "t"}
              }
            },
            {
              "data": {"name": "clabels"},
              "transform": [{"filter": {"field": "k", "equal": "r"}}],
              "mark": {"type": "text", "font": "Liberation Serif", "fontSize": 19, "color": "#000", "angle": 90},
              "encoding": {
                "x": {"field": "month", "type": "quantitative"},
                "y": {"field": "lat", "type": "quantitative"},
                "text": {"field": "t"}
              }
            },
            {
              "data": {"values": [{}]},
              "mark": {"type": "rect", "filled": false, "stroke": "#555555", "strokeWidth": 1.5},
              "encoding": {
                "x": {"datum": 1},
                "x2": {"datum": 13},
                "y": {"datum": 0},
                "y2": {"datum": -90}
              }
            }
          ]
        },
        {
          "layer": [
            {
              "data": {"name": "cbar"},
              "mark": {"type": "rect"},
              "encoding": {
                "x": {"datum": 13.686},
                "x2": {"datum": 14.74},
                "y": {
                  "field": "lo", "type": "quantitative",
                  "scale": {"domain": [-40, 88], "nice": false, "zero": false},
                  "axis": {
                    "orient": "right", "offset": 76,
                    "values": [-40,-20,0,20,40,60,80],
                    "labelExpr": "datum.value < 0 ? '−' + abs(datum.value) : '' + datum.value",
                    "labelFontSize": 20, "labelFontWeight": "bold", "labelPadding": 4, "labelFlush": false,
                    "tickSize": 6, "tickColor": "#333", "domain": false, "grid": false, "title": null
                  }
                },
                "y2": {"field": "hi"},
                "color": {
                  "field": "lo", "type": "ordinal", "legend": null,
                  "scale": {"domain": [-40,-20,0,20,40,60,80], "range": ["#ffffff","#ebebeb","#a4a4a4","#929292","#767676","#5a5a5a","#383838"]}
                }
              }
            },
            {
              "data": {"values": [{}]},
              "mark": {"type": "rect", "filled": false, "stroke": "#333333", "strokeWidth": 1.2},
              "encoding": {
                "x": {"datum": 13.686},
                "x2": {"datum": 14.74},
                "y": {"datum": -40},
                "y2": {"datum": 88}
              }
            }
          ]
        },
        {
          "data": {"name": "cbar"},
          "mark": {"type": "rect", "opacity": 0},
          "encoding": {
            "x": {"datum": 13.686},
            "x2": {"datum": 14.74},
            "y": {
              "field": "lo", "type": "quantitative",
              "scale": {"domain": [-40, 88], "nice": false, "zero": false},
              "axis": {
                "orient": "right", "offset": 30,
                "values": [-40,-20,0,20,40,60,80],
                "labels": false, "tickSize": -6, "tickColor": "#333", "domain": false, "grid": false, "title": null
              }
            },
            "y2": {"field": "hi"}
          }
        }
      ],
      "resolve": {"scale": {"y": "independent", "color": "independent"}, "axis": {"y": "independent"}}
    }
  ],
  "spacing": 77,
  "bounds": "flush"
}
